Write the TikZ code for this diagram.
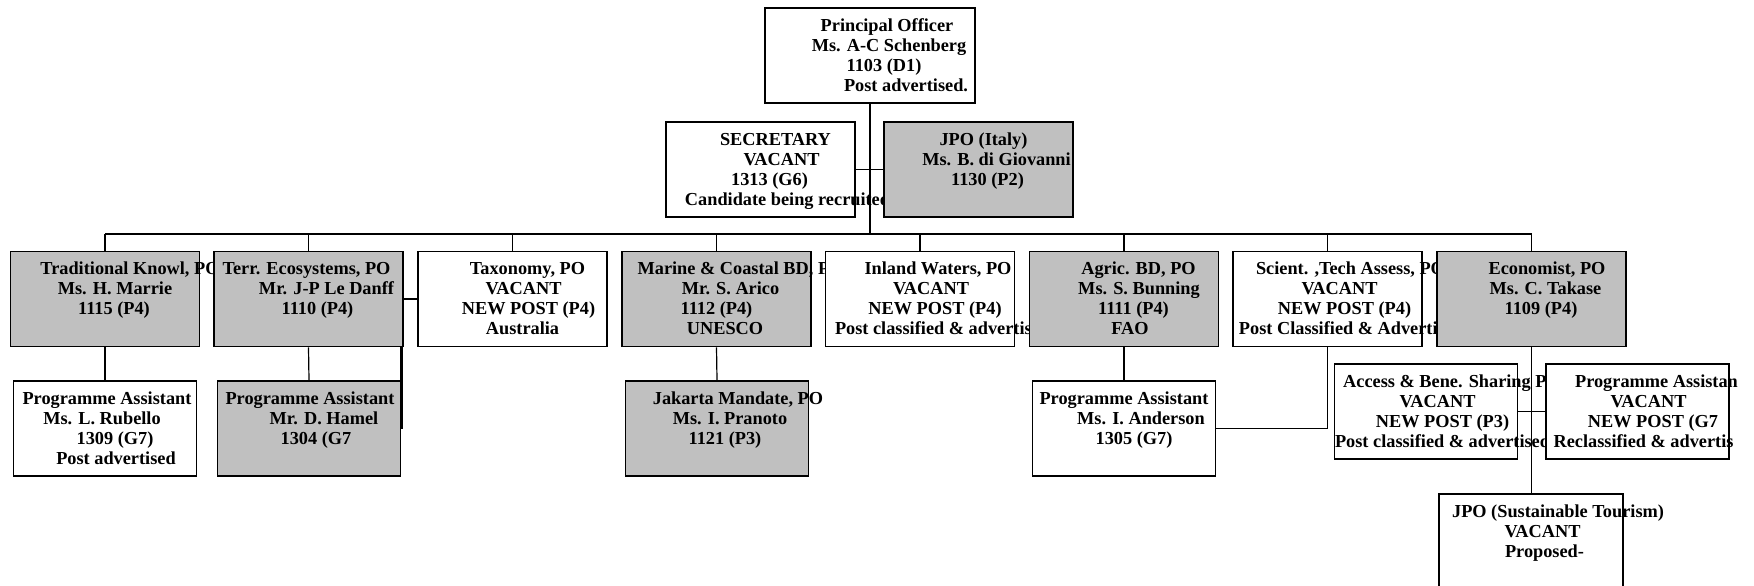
\documentclass[tikz,border=0pt]{standalone}
\usepackage{fontspec}
\setmainfont{Liberation Serif}

\definecolor{postgray}{RGB}{192,192,192}
\newcommand\postfont{\fontsize{9.15}{10}\selectfont\bfseries}
\newcommand\ust{\rule[-2pt]{0pt}{9.8pt}}

\tikzset{
  post/.style={draw, line width=0.8pt, fill=white, minimum width=94.5pt, minimum height=47.5pt, inner sep=0pt},
  filled/.style={post, fill=postgray},
  subpost/.style={minimum width=91.5pt},
  posttext/.style={align=center, inner sep=0pt, font=\postfont},
  link/.style={line width=0.6pt},
}

\begin{document}
\begin{tikzpicture}[x=0.5pt, y=-0.5pt]
    \useasboundingbox (0,0) rectangle (1754,585);

    % head of unit
    \node[post, minimum width=105pt] (po) at (870,55.5) {};
    \node[posttext] (potxt) at (po) {\ust\hspace*{17pt}Principal Officer\\\hspace*{19pt}Ms. A-C Schenberg\\\hspace*{14pt}1103 (D1)\\\hspace*{36pt}Post advertised.\ust};

    \node[post] (sec) at (760.5,169.5) {};
    \node[posttext] (sectxt) at (sec) {\ust\hspace*{15pt}SECRETARY\\\hspace*{21pt}VACANT\\\hspace*{9pt}1313 (G6)\\\hspace*{27pt}Candidate being recruited\ust};
    \node[filled] (jpoit) at (978.5,169.5) {};
    \node[posttext] (jpoittxt) at (jpoit) {\ust\hspace*{5pt}JPO (Italy)\\\hspace*{18pt}Ms. B. di Giovanni\\\hspace*{9pt}1130 (P2)\\\ust};

    % programme officers
    \node[filled] (trad) at (105,299) {};
    \node[posttext] (tradtxt) at (trad) {\ust\hspace*{25pt}Traditional Knowl, PO\\\hspace*{10pt}Ms. H. Marrie\\\hspace*{9pt}1115 (P4)\\\ust};
    \node[filled] (terr) at (308.5,299) {};
    \node[posttext] (terrtxt) at (terr) {\ust\hspace*{-2pt}Terr. Ecosystems, PO\\\hspace*{18pt}Mr. J-P Le Danff\\\hspace*{9pt}1110 (P4)\\\ust};
    \node[post] (tax) at (512.5,299) {};
    \node[posttext] (taxtxt) at (tax) {\ust\hspace*{15pt}Taxonomy, PO\\\hspace*{11pt}VACANT\\\hspace*{16pt}NEW POST (P4)\\\hspace*{10pt}Australia\ust};
    \node[filled] (marine) at (716.5,299) {};
    \node[posttext] (marinetxt) at (marine) {\ust\hspace*{24pt}Marine \& Coastal BD, PO\\\hspace*{14pt}Mr. S. Arico\\1112 (P4)\\\hspace*{8.5pt}UNESCO\ust};
    \node[post] (inland) at (920,299) {};
    \node[posttext] (inlandtxt) at (inland) {\ust\hspace*{18pt}Inland Waters, PO\\\hspace*{11pt}VACANT\\\hspace*{15pt}NEW POST (P4)\\\hspace*{22.5pt}Post classified \& advertised\ust};
    \node[filled] (agric) at (1124,299) {};
    \node[posttext] (agrictxt) at (agric) {\ust\hspace*{14.5pt}Agric. BD, PO\\\hspace*{15pt}Ms. S. Bunning\\\hspace*{9.5pt}1111 (P4)\\\hspace*{6pt}FAO\ust};
    \node[post] (scient) at (1327.5,299) {};
    \node[posttext] (scienttxt) at (scient) {\ust\hspace*{23pt}Scient. ,Tech Assess, PO\\\hspace*{12pt}VACANT\\\hspace*{17pt}NEW POST (P4)\\\hspace*{23.5pt}Post Classified \& Advertised\ust};
    \node[filled] (econ) at (1531.5,299) {};
    \node[posttext] (econtxt) at (econ) {\ust\hspace*{15.5pt}Economist, PO\\\hspace*{14pt}Ms. C. Takase\\\hspace*{9.5pt}1109 (P4)\\\ust};

    % assistants
    \node[post, subpost] (rubello) at (105,428.5) {};
    \node[posttext] (rubellotxt) at (rubello) {\ust\hspace*{2pt}Programme Assistant\\\hspace*{-3pt}Ms. L. Rubello\\\hspace*{10pt}1309 (G7)\\\hspace*{11pt}Post advertised\ust};
    \node[filled, subpost] (hamel) at (309,428.5) {};
    \node[posttext] (hameltxt) at (hamel) {\ust\hspace*{1pt}Programme Assistant\\\hspace*{15pt}Mr. D. Hamel\\\hspace*{7pt}1304 (G7\\\ust};
    \node[filled, subpost] (jakarta) at (717,428.5) {};
    \node[posttext] (jakartatxt) at (jakarta) {\ust\hspace*{21pt}Jakarta Mandate, PO\\\hspace*{13pt}Ms. I. Pranoto\\\hspace*{8pt}1121 (P3)\\\ust};
    \node[post, subpost] (anderson) at (1124,428.5) {};
    \node[posttext] (andersontxt) at (anderson) {\ust Programme Assistant\\\hspace*{17pt}Ms. I. Anderson\\\hspace*{10pt}1305 (G7)\\\ust};
    \node[post, subpost] (abs) at (1426,411.5) {};
    \node[posttext] (abstxt) at (abs) {\ust\hspace*{26pt}Access \& Bene. Sharing PO\\\hspace*{11.5pt}VACANT\\\hspace*{16.5pt}NEW POST (P3)\\\hspace*{16.5pt}Post classified \& advertised\ust};
    \node[post, subpost] (econpa) at (1637.5,411.5) {};
    \node[posttext] (econpatxt) at (econpa) {\ust\hspace*{19pt}Programme Assistan\\\hspace*{11pt}VACANT\\\hspace*{15.5pt}NEW POST (G7\\\hspace*{6pt}Reclassified \& advertis\ust};
    \node[post, minimum width=92pt] (tourism) at (1531,541.5) {};
    \node[posttext] (tourismtxt) at (tourism) {\ust\hspace*{27pt}JPO (Sustainable Tourism)\\\hspace*{11.5pt}VACANT\\\hspace*{13.5pt}Proposed-\\\ust};

    % lines
    \coordinate (bus) at (870,234);
    \draw[link] (po.south) -- (bus);
    \draw[link] (sec.east) -- (jpoit.west);
    \draw[link] (trad.north |- bus) -- (econ.north |- bus);
    \foreach \u in {trad,terr,tax,marine,inland,agric,scient,econ}
        \draw[link] (\u.north) -- (\u.north |- bus);
    \draw[link] (terr.east) -- (tax.west);
    \draw[link] (trad.south) -- (rubello.north);
    \draw[link] (terr.south) -- (hamel.north);
    \draw[line width=1.2pt] (hamel.east |- terr.south) -- (hamel.east);
    \draw[link] (marine.south) -- (jakarta.north);
    \draw[link] (agric.south) -- (anderson.north);
    \draw[link] (scient.south) |- (anderson.east);
    \draw[link] (econ.south) -- (econ.south |- tourism.north);
    \draw[link] (abs.east) -- (econpa.west);
\end{tikzpicture}
\end{document}
